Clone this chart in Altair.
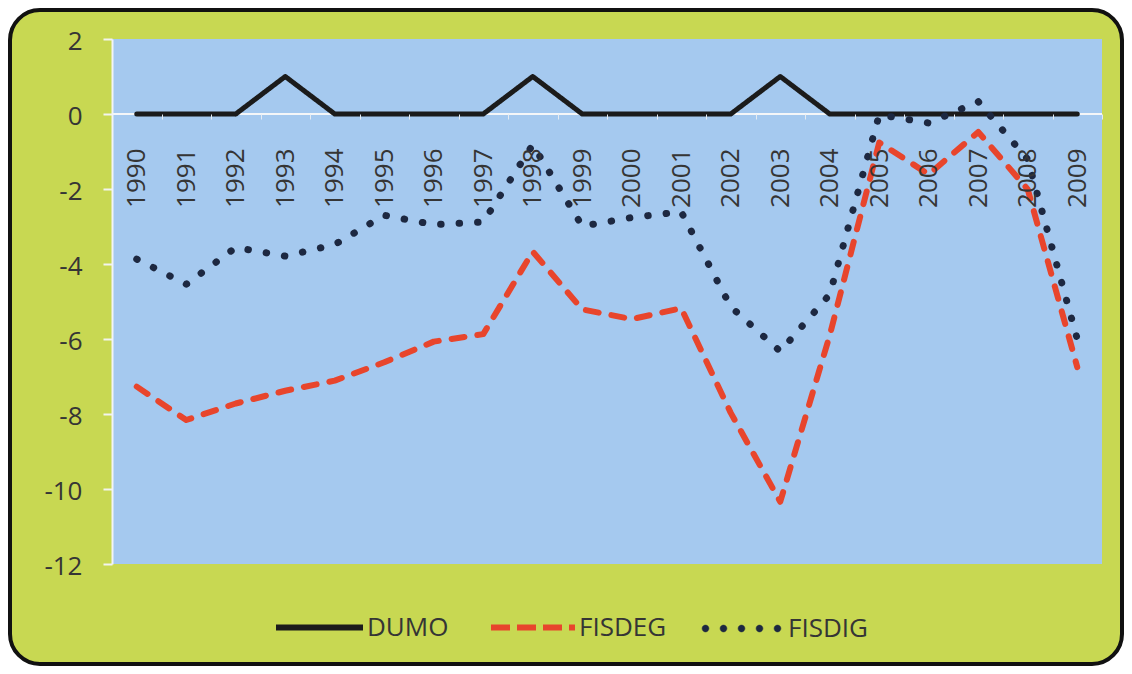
import altair as alt
import pandas as pd

# ---- data ----
years = list(range(1990, 2010))
dumo = [0, 0, 0, 1, 0, 0, 0, 0, 1, 0, 0, 0, 0, 1, 0, 0, 0, 0, 0, 0]
fisdeg = [-7.27, -8.16, -7.72, -7.38, -7.11, -6.62, -6.07, -5.87, -3.67, -5.21,
          -5.47, -5.18, -7.97, -10.34, -5.90, -0.76, -1.61, -0.48, -2.01, -6.75]
fisdig = [-3.87, -4.54, -3.56, -3.79, -3.48, -2.70, -2.95, -2.88, -0.82, -2.99,
          -2.76, -2.61, -5.14, -6.33, -4.81, -0.02, -0.24, 0.33, -1.21, -6.00]
series = ["DUMO", "FISDEG", "FISDIG"]
y_ticks = [2, 0, -2, -4, -6, -8, -10, -12]

# ---- styling ----
colors = ["#1b1b1b", "#e8452c", "#1d2841"]
line_dash = [[1, 0], [13, 13], [0.5, 18]]
line_width = [5, 6, 7]
GREEN = "#c8d852"
BLUE = "#a5c9ef"
TEXT = "#353535"
FONT = "Open Sans"
W, H = 990, 525
PAD = {"left": 104, "top": 31, "right": 22, "bottom": 102}

# legend symbols: a solid stroke, a dashed stroke, and a row of filled dots
R = 0.085
dots_path = " ".join(
    f"M{c - R:.3f},0a{R},{R} 0 1,0 {2 * R:.3f},0a{R},{R} 0 1,0 {-2 * R:.3f},0Z"
    for c in [-0.9, -0.45, 0.0, 0.45, 0.9]
)
leg_symbol = ["stroke", "stroke", dots_path]
leg_len = [87, 84, 80]
leg_dash = [[1, 0], [19, 7], [1, 0]]
leg_width = [6, 6, 0.5]
leg_fill = ["transparent", "transparent", colors[2]]
leg_x = [161, 376, 589]
leg_y = [542, 543.5, 549]
leg_label_offset = [1, 1, 6]

rows = []
for name, vals in zip(series, [dumo, fisdeg, fisdig]):
    for yr, v in zip(years, vals):
        rows.append({"year": yr, "value": v, "series": name})
df = pd.DataFrame(rows)

step = W / len(years)

x_enc = alt.X(
    "year:Q",
    scale=alt.Scale(domain=[years[0] - 0.5, years[-1] + 0.5], nice=False, zero=False),
    axis=alt.Axis(
        values=years, format="d", title=None, labelAngle=270,
        labelAlign="right", labelBaseline="middle",
        labelFont=FONT, labelFontSize=26, labelColor=TEXT,
        labelPadding=29, tickSize=5, tickColor="#e4ebf2", tickWidth=1,
        tickOffset=step / 2, labelOffset=-step / 2,
        domain=False, grid=False, offset=-H * 12 / 14, zindex=1,
    ),
)
y_enc = alt.Y(
    "value:Q",
    scale=alt.Scale(domain=[-12, 2], nice=False, zero=False),
    axis=alt.Axis(
        values=y_ticks, title=None, labelExpr="'' + datum.value",
        labelFont=FONT, labelFontSize=26,
        labelColor=TEXT, labelPadding=21, labelOffset=2,
        tickSize=9, tickColor="#f2f4ee", tickWidth=2,
        domainColor="#f2f4f6", domainWidth=2, grid=False, zindex=1,
    ),
)

one = alt.Data(values=[{}])

frame = alt.Chart(one).mark_rect(
    fill=GREEN, stroke="#111111", strokeWidth=4, cornerRadius=30
).encode(
    x=alt.value(-PAD["left"] + 2), x2=alt.value(W + PAD["right"] - 2),
    y=alt.value(-PAD["top"] + 2), y2=alt.value(H + PAD["bottom"] - 2),
)

plot_bg = alt.Chart(one).mark_rect(fill=BLUE).encode(
    x=alt.value(0), x2=alt.value(W), y=alt.value(0), y2=alt.value(H)
)

zero_line = alt.Chart(one).mark_rule(color="#f4f6f8", strokeWidth=2).encode(
    y=alt.datum(0), x=alt.value(0), x2=alt.value(W)
)

layers = [frame, plot_bg, zero_line]
for i, name in enumerate(series):
    legend = alt.Legend(
        title=None, orient="none", direction="horizontal",
        legendX=leg_x[i], legendY=leg_y[i],
        symbolType=leg_symbol[i], symbolSize=leg_len[i] ** 2,
        symbolStrokeWidth=leg_width[i], symbolDash=leg_dash[i],
        symbolStrokeColor=colors[i], symbolFillColor=leg_fill[i],
        labelFont=FONT, labelFontSize=26, labelColor=TEXT,
        labelOffset=leg_label_offset[i], padding=0,
    )
    layers.append(
        alt.Chart(df)
        .transform_filter(alt.datum.series == name)
        .mark_line(
            strokeWidth=line_width[i], strokeDash=line_dash[i],
            strokeCap="round", strokeJoin="round",
        )
        .encode(
            x=x_enc, y=y_enc,
            color=alt.Color("series:N",
                            scale=alt.Scale(domain=[name], range=[colors[i]]),
                            legend=legend),
        )
    )

chart = alt.layer(*layers).resolve_scale(color="independent").properties(
    width=W, height=H,
    autosize=alt.AutoSizeParams(type="none"),
    padding=PAD,
    background="white",
).configure_view(strokeOpacity=0, fillOpacity=0)

chart.save("out.html", embed_options={"renderer": "svg", "actions": False})
